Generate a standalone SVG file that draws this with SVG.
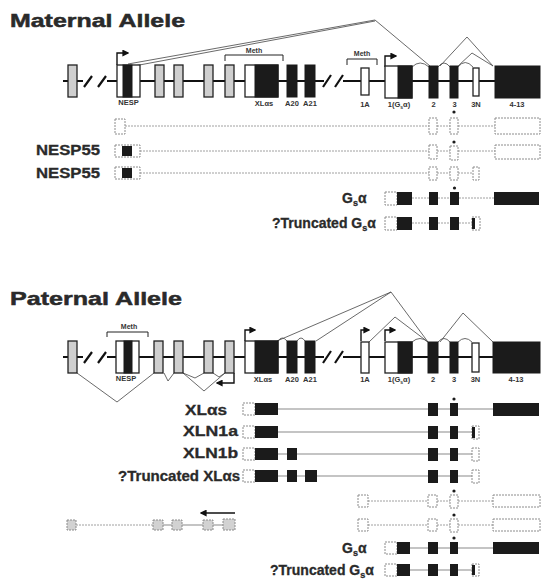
<svg xmlns="http://www.w3.org/2000/svg" width="541" height="579" viewBox="0 0 541 579">
<defs>
<style>
.bb{stroke:#111;stroke-width:2.2;fill:none}
.sl{stroke:#111;stroke-width:2.2;fill:none}
.g{fill:#cfcfcf;stroke:#222;stroke-width:1.3}
.w{fill:#fff;stroke:#222;stroke-width:1.3}
.k{fill:#1b1b1b;stroke:#1b1b1b;stroke-width:1}
.sp{fill:none;stroke:#444;stroke-width:0.8}
.ar{fill:none;stroke:#111;stroke-width:1.4}
.br{fill:none;stroke:#222;stroke-width:1}
.tl{stroke:#8a8a8a;stroke-width:1.1;fill:none}
.td{stroke:#a0a0a0;stroke-width:1;stroke-dasharray:2 1;fill:none}
.tw{fill:#fff;stroke:#8c8c8c;stroke-width:1;stroke-dasharray:2 1}
.tg{fill:#d2d2d2;stroke:#8c8c8c;stroke-width:1;stroke-dasharray:2 1}
.tk{fill:#1b1b1b}
.dot{fill:#1b1b1b}
.h{font-family:"Liberation Sans",Arial,sans-serif;font-weight:bold;font-size:19px;fill:#2a2a2a;stroke:#2a2a2a;stroke-width:0.5}
.lb{font-family:"Liberation Sans",Arial,sans-serif;font-weight:bold;font-size:14px;fill:#2a2a2a;stroke:#2a2a2a;stroke-width:0.3}
.sm{font-family:"Liberation Sans",Arial,sans-serif;font-weight:bold;font-size:7.5px;fill:#333}
.mt{font-family:"Liberation Sans",Arial,sans-serif;font-weight:bold;font-size:7px;fill:#333}
</style>
<marker id="ah" viewBox="0 0 10 10" refX="8" refY="5" markerWidth="5" markerHeight="5" orient="auto-start-reverse"><path d="M0,0 L10,5 L0,10z" fill="#111"/></marker>
</defs>
<rect width="541" height="579" fill="#fff"/>

<!-- ================= MATERNAL ================= -->
<g id="maternal-title"><text class="h" x="10" y="27" textLength="175" lengthAdjust="spacingAndGlyphs">Maternal Allele</text></g>

<g id="maternal-backbone">
<path class="bb" d="M63,81 H83 M107,81 H324 M343,81 H495"/>
<path class="sl" d="M84,87 L92,76 M98,87 L106,76 M323,87 L331,75 M335,87 L343,75"/>
</g>

<g id="m-connectors">
<path class="sp" d="M128,64 L375,20 L430,66"/>
<path class="sp" d="M134,66 L375,21"/>
<path class="sp" d="M412,67 Q420,59 429,67 M438,67 Q444,59 450,67 M458,67 Q465,58 473,67"/>
<path class="sp" d="M440,66 L467,37 L493,66 M458,66 L472,53 L493,66"/>
<path class="ar" d="M117,65 V53 H128" marker-end="url(#ah)"/>
<path class="ar" d="M385,67 V56 H396" marker-end="url(#ah)"/>
<path class="br" d="M225,61 V55 H283 V61 M347,65 V59 H377 V65"/>
</g>

<g id="m-ex-u1"><rect class="g" x="68" y="65" width="9" height="32"/></g>
<g id="m-ex-nesp"><rect class="w" x="117" y="65" width="23" height="32"/><rect class="k" x="123" y="65" width="9" height="32"/><text class="sm" x="128.5" y="105" text-anchor="middle">NESP</text></g>
<g id="m-ex-u2"><rect class="g" x="155" y="65" width="9" height="32"/></g>
<g id="m-ex-u3"><rect class="g" x="174" y="65" width="9" height="32"/></g>
<g id="m-ex-u4"><rect class="g" x="204" y="65" width="9" height="32"/></g>
<g id="m-ex-u5"><rect class="g" x="225" y="65" width="9" height="32"/></g>
<g id="m-ex-xl"><rect class="w" x="245" y="65" width="33" height="32"/><rect class="k" x="255" y="65" width="23" height="32"/><text class="sm" x="264" y="106" text-anchor="middle">XLαs</text><text class="mt" x="254" y="53" text-anchor="middle">Meth</text></g>
<g id="m-ex-a20"><rect class="k" x="287" y="65" width="10" height="32"/><text class="sm" x="292" y="106" text-anchor="middle">A20</text></g>
<g id="m-ex-a21"><rect class="k" x="305" y="65" width="10" height="32"/><text class="sm" x="310" y="106" text-anchor="middle">A21</text></g>
<g id="m-ex-1a"><rect class="w" x="361" y="68" width="8" height="27"/><text class="sm" x="365" y="107" text-anchor="middle">1A</text><text class="mt" x="362" y="56" text-anchor="middle">Meth</text></g>
<g id="m-ex-1"><rect class="w" x="385" y="66" width="27" height="32"/><rect class="k" x="398" y="66" width="14" height="32"/><text class="sm" x="399" y="107" text-anchor="middle">1(G<tspan font-size="5" dy="1.5">s</tspan><tspan dy="-1.5">α)</tspan></text></g>
<g id="m-ex-2"><rect class="k" x="429" y="66" width="9" height="32"/><text class="sm" x="433.5" y="107" text-anchor="middle">2</text></g>
<g id="m-ex-3"><rect class="k" x="450" y="66" width="8" height="32"/><text class="sm" x="454.5" y="107" text-anchor="middle">3</text></g>
<g id="m-ex-3n"><rect class="w" x="473" y="68" width="6" height="28"/><text class="sm" x="476" y="107" text-anchor="middle">3N</text></g>
<g id="m-ex-413"><rect class="k" x="495" y="66" width="45" height="32"/><text class="sm" x="517" y="107" text-anchor="middle">4-13</text></g>

<!-- maternal transcripts -->
<g id="m-tr-1">
<path class="td" d="M125,126 H429 M437,126 H450 M458,126 H495"/>
<rect class="tw" x="115" y="119" width="10" height="15"/>
<rect class="tw" x="429" y="118" width="8" height="16"/>
<rect class="tw" x="450" y="118" width="8" height="16"/><circle class="dot" cx="454" cy="112" r="1.6"/>
<rect class="tw" x="495" y="118" width="45" height="16"/>
</g>
<g id="m-tr-nesp55a">
<text class="lb" x="36" y="155" textLength="64" lengthAdjust="spacingAndGlyphs">NESP55</text>
<path class="td" d="M140,151 H429 M437,151 H450 M458,151 H495"/>
<rect class="tw" x="115" y="145" width="25" height="12"/><rect class="tk" x="122" y="146" width="10" height="10"/>
<rect class="tw" x="429" y="145" width="8" height="14"/>
<rect class="tw" x="450" y="146" width="8" height="14"/><circle class="dot" cx="454" cy="142" r="1.6"/>
<rect class="tw" x="495" y="145" width="45" height="14"/>
</g>
<g id="m-tr-nesp55b">
<text class="lb" x="36" y="178" textLength="64" lengthAdjust="spacingAndGlyphs">NESP55</text>
<path class="td" d="M140,173 H429 M437,173 H450 M458,173 H473"/>
<rect class="tw" x="115" y="167" width="25" height="12"/><rect class="tk" x="122" y="168" width="10" height="10"/>
<rect class="tw" x="429" y="167" width="8" height="13"/>
<rect class="tw" x="450" y="167" width="8" height="13"/>
<rect class="tw" x="473" y="167" width="6" height="13"/>
</g>
<g id="m-tr-gsa">
<text class="lb" x="342" y="203">G<tspan font-size="9" dy="3">s</tspan><tspan dy="-3">α</tspan></text>
<path class="td" d="M412,198 H429 M438,198 H450 M459,198 H494"/>
<rect class="tw" x="385" y="192" width="12" height="13"/><rect class="tk" x="397" y="192" width="15" height="13"/>
<rect class="tk" x="429" y="192" width="9" height="13"/>
<rect class="tk" x="450" y="192" width="9" height="13"/><circle class="dot" cx="454.5" cy="188" r="1.6"/>
<rect class="tk" x="494" y="192" width="45" height="13"/>
</g>
<g id="m-tr-trunc">
<text class="lb" x="272" y="228">?Truncated G<tspan font-size="9" dy="3">s</tspan><tspan dy="-3">α</tspan></text>
<path class="td" d="M412,223 H429 M438,223 H450 M459,223 H472"/>
<rect class="tw" x="385" y="217" width="12" height="13"/><rect class="tk" x="397" y="217" width="15" height="13"/>
<rect class="tk" x="429" y="217" width="9" height="13"/>
<rect class="tk" x="450" y="217" width="9" height="13"/>
<rect class="tw" x="472" y="217" width="8" height="13"/><rect class="tk" x="472" y="218" width="3" height="11"/>
</g>

<!-- ================= PATERNAL ================= -->
<g id="paternal-title"><text class="h" x="10" y="305" textLength="172" lengthAdjust="spacingAndGlyphs">Paternal Allele</text></g>

<g id="paternal-backbone">
<path class="bb" d="M63,357 H83 M107,357 H324 M343,357 H493"/>
<path class="sl" d="M84,363 L92,352 M98,363 L106,352 M323,363 L331,351 M335,363 L343,351"/>
</g>

<g id="p-connectors">
<path class="sp" d="M277,341 L391,292 L428,342 M316,341 L391,292"/>
<path class="sp" d="M369,342 L395,317 L428,342"/>
<path class="sp" d="M440,342 L463,313 L493,342"/>
<path class="sp" d="M278,341 Q282,335 287,341 M297,341 Q301,335 305,341 M412,342 Q420,335 428,342 M438,342 Q444,335 450,342 M458,342 Q465,335 472,342"/>
<path class="sp" d="M77,373 L117,402 L154,373 M164,373 L168,381 L174,373 M183,373 L195,378 L204,373 M183,373 L204,391 L225,373 M213,373 L219,377 L225,373"/>
<path class="ar" d="M245,341 V330 H255" marker-end="url(#ah)"/>
<path class="ar" d="M361,341 V330 H369" marker-end="url(#ah)"/>
<path class="ar" d="M385,341 V330 H395" marker-end="url(#ah)"/>
<path class="ar" d="M234,373 V383 H217" marker-end="url(#ah)"/>
<path class="br" d="M107,337 V332 H148 V337"/>
</g>

<g id="p-ex-u1"><rect class="g" x="68" y="341" width="9" height="32"/></g>
<g id="p-ex-nesp"><rect class="w" x="116" y="341" width="23" height="32"/><rect class="k" x="124" y="341" width="8" height="32"/><text class="sm" x="126" y="381" text-anchor="middle">NESP</text><text class="mt" x="129" y="329" text-anchor="middle">Meth</text></g>
<g id="p-ex-u2"><rect class="g" x="154" y="341" width="9" height="32"/></g>
<g id="p-ex-u3"><rect class="g" x="174" y="341" width="9" height="32"/></g>
<g id="p-ex-u4"><rect class="g" x="204" y="341" width="9" height="32"/></g>
<g id="p-ex-u5"><rect class="g" x="225" y="341" width="9" height="32"/></g>
<g id="p-ex-xl"><rect class="w" x="245" y="341" width="33" height="32"/><rect class="k" x="255" y="341" width="23" height="32"/><text class="sm" x="263" y="382" text-anchor="middle">XLαs</text></g>
<g id="p-ex-a20"><rect class="k" x="287" y="341" width="10" height="32"/><text class="sm" x="292" y="382" text-anchor="middle">A20</text></g>
<g id="p-ex-a21"><rect class="k" x="305" y="341" width="10" height="32"/><text class="sm" x="310" y="382" text-anchor="middle">A21</text></g>
<g id="p-ex-1a"><rect class="w" x="361" y="342" width="8" height="31"/><text class="sm" x="365" y="382" text-anchor="middle">1A</text></g>
<g id="p-ex-1"><rect class="w" x="385" y="342" width="27" height="31"/><rect class="k" x="398" y="342" width="14" height="31"/><text class="sm" x="399" y="382" text-anchor="middle">1(G<tspan font-size="5" dy="1.5">s</tspan><tspan dy="-1.5">α)</tspan></text></g>
<g id="p-ex-2"><rect class="k" x="428" y="342" width="10" height="31"/><text class="sm" x="433" y="382" text-anchor="middle">2</text></g>
<g id="p-ex-3"><rect class="k" x="450" y="342" width="8" height="31"/><text class="sm" x="454" y="382" text-anchor="middle">3</text></g>
<g id="p-ex-3n"><rect class="w" x="472" y="343" width="7" height="29"/><text class="sm" x="475.5" y="382" text-anchor="middle">3N</text></g>
<g id="p-ex-413"><rect class="k" x="493" y="342" width="47" height="31"/><text class="sm" x="516" y="382" text-anchor="middle">4-13</text></g>

<!-- paternal transcripts -->
<g id="p-tr-xlas">
<text class="lb" x="227" y="415" text-anchor="end" textLength="42" lengthAdjust="spacingAndGlyphs">XLαs</text>
<path class="tl" d="M278,409 H428 M438,409 H450 M458,409 H493"/>
<rect class="tw" x="243" y="403" width="12" height="12"/><rect class="tk" x="255" y="403" width="23" height="12"/>
<rect class="tk" x="428" y="403" width="10" height="13"/>
<rect class="tk" x="450" y="403" width="8" height="13"/><circle class="dot" cx="454" cy="399" r="1.6"/>
<rect class="tk" x="493" y="403" width="46" height="13"/>
</g>
<g id="p-tr-xln1a">
<text class="lb" x="238" y="436" text-anchor="end" textLength="55" lengthAdjust="spacingAndGlyphs">XLN1a</text>
<path class="tl" d="M278,432 H428 M438,432 H450 M458,432 H472"/>
<rect class="tw" x="243" y="426" width="12" height="12"/><rect class="tk" x="255" y="426" width="23" height="12"/>
<rect class="tk" x="428" y="426" width="10" height="13"/>
<rect class="tk" x="450" y="426" width="8" height="13"/>
<rect class="tw" x="472" y="426" width="7" height="13"/><rect class="tk" x="472" y="427" width="3" height="11"/>
</g>
<g id="p-tr-xln1b">
<text class="lb" x="238" y="458" text-anchor="end" textLength="55" lengthAdjust="spacingAndGlyphs">XLN1b</text>
<path class="tl" d="M278,454 H287 M297,454 H428 M438,454 H450 M458,454 H472"/>
<rect class="tw" x="243" y="448" width="12" height="12"/><rect class="tk" x="255" y="448" width="23" height="12"/>
<rect class="tk" x="287" y="448" width="10" height="12"/>
<rect class="tk" x="428" y="448" width="10" height="13"/>
<rect class="tk" x="450" y="448" width="8" height="13"/>
<rect class="tw" x="472" y="448" width="7" height="13"/>
</g>
<g id="p-tr-truncxl">
<text class="lb" x="240" y="481" text-anchor="end" textLength="122" lengthAdjust="spacingAndGlyphs">?Truncated XLαs</text>
<path class="tl" d="M278,476 H287 M297,476 H305 M317,476 H428 M438,476 H450 M458,476 H472"/>
<rect class="tw" x="243" y="470" width="12" height="12"/><rect class="tk" x="255" y="470" width="23" height="12"/>
<rect class="tk" x="287" y="470" width="10" height="12"/>
<rect class="tk" x="305" y="470" width="12" height="12"/>
<rect class="tk" x="428" y="470" width="10" height="13"/>
<rect class="tk" x="450" y="470" width="8" height="13"/>
<rect class="tw" x="472" y="470" width="7" height="13"/>
</g>
<g id="p-tr-d1">
<path class="td" d="M368,501 H428 M437,501 H450 M458,501 H493"/>
<rect class="tw" x="358" y="495" width="10" height="12"/>
<rect class="tw" x="428" y="495" width="9" height="12"/>
<rect class="tw" x="450" y="495" width="8" height="13"/><circle class="dot" cx="454" cy="491" r="1.6"/>
<rect class="tw" x="493" y="495" width="47" height="12"/>
</g>
<g id="p-tr-d2">
<path class="td" d="M368,525 H428 M437,525 H450 M458,525 H493"/>
<rect class="tw" x="358" y="519" width="10" height="12"/>
<rect class="tw" x="428" y="519" width="9" height="12"/>
<rect class="tw" x="450" y="519" width="8" height="13"/><circle class="dot" cx="454" cy="515" r="1.6"/>
<rect class="tw" x="493" y="519" width="47" height="12"/>
</g>
<g id="p-tr-as">
<path class="td" d="M76,525 H153"/>
<path class="tl" d="M163,525 H172 M182,525 H203 M213,525 H223"/>
<rect class="tg" x="67" y="520" width="9" height="10"/>
<rect class="tg" x="153" y="520" width="10" height="10"/>
<rect class="tg" x="172" y="520" width="10" height="10"/>
<rect class="tg" x="203" y="520" width="10" height="10"/>
<rect class="tg" x="223" y="519" width="12" height="11"/>
<path class="ar" d="M235,513 H201" marker-end="url(#ah)"/>
</g>
<g id="p-tr-gsa">
<text class="lb" x="342" y="553">G<tspan font-size="9" dy="3">s</tspan><tspan dy="-3">α</tspan></text>
<path class="tl" d="M410,548 H428 M438,548 H450 M458,548 H493"/>
<rect class="tw" x="385" y="542" width="12" height="12"/><rect class="tk" x="397" y="542" width="13" height="12"/>
<rect class="tk" x="428" y="542" width="10" height="12"/>
<rect class="tk" x="450" y="542" width="8" height="12"/><circle class="dot" cx="454" cy="538" r="1.6"/>
<rect class="tk" x="493" y="542" width="46" height="12"/>
</g>
<g id="p-tr-truncgs">
<text class="lb" x="270" y="575">?Truncated G<tspan font-size="9" dy="3">s</tspan><tspan dy="-3">α</tspan></text>
<path class="tl" d="M410,570 H428 M438,570 H450 M458,570 H472"/>
<rect class="tw" x="385" y="564" width="12" height="12"/><rect class="tk" x="397" y="564" width="13" height="12"/>
<rect class="tk" x="428" y="564" width="10" height="12"/>
<rect class="tk" x="450" y="564" width="8" height="12"/>
<rect class="tw" x="472" y="564" width="7" height="12"/><rect class="tk" x="472" y="565" width="3" height="10"/>
</g>
</svg>
